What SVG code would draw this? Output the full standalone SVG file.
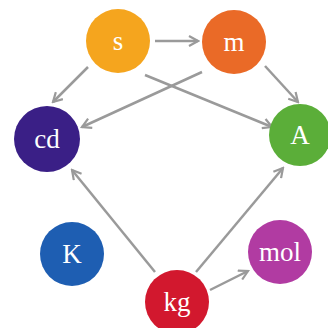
<svg xmlns="http://www.w3.org/2000/svg" width="328" height="328" viewBox="0 0 328 328">
<defs>
<style>
.n text{font-family:"Liberation Serif","DejaVu Serif",serif;font-size:27px;fill:#fff;text-anchor:middle;dominant-baseline:central}
.e line{stroke:#9a9a9a;stroke-width:2.5;fill:none;marker-end:url(#ah)}
</style>
<marker id="ah" viewBox="0 0 12 12" refX="10" refY="6" markerWidth="12" markerHeight="12" markerUnits="userSpaceOnUse" orient="auto">
<path d="M1,1 L10,6 L1,11" fill="none" stroke="#9a9a9a" stroke-width="2.2"/>
</marker>
</defs>
<rect width="328" height="328" fill="#fff"/>
<g class="e">
<line x1="155" y1="41" x2="198" y2="41"/>
<line x1="88" y1="67" x2="53" y2="102"/>
<line x1="202" y1="72" x2="82" y2="127"/>
<line x1="145" y1="75" x2="272" y2="127"/>
<line x1="265" y1="66" x2="298" y2="102"/>
<line x1="155" y1="272" x2="72" y2="170"/>
<line x1="196" y1="272" x2="283" y2="168"/>
<line x1="210" y1="290" x2="248" y2="271"/>
</g>
<g id="s" class="n"><circle cx="118" cy="41" r="32" fill="#F5A51E"/><text x="118" y="41">s</text></g>
<g id="m" class="n"><circle cx="234" cy="42" r="32" fill="#EA6A27"/><text x="234" y="42">m</text></g>
<g id="cd" class="n"><circle cx="47" cy="139" r="33" fill="#3A1F86"/><text x="47" y="139">cd</text></g>
<g id="A" class="n"><circle cx="300" cy="135" r="31" fill="#5BAE39"/><text x="300" y="135">A</text></g>
<g id="K" class="n"><circle cx="72" cy="254" r="32" fill="#1E5EB2"/><text x="72" y="254">K</text></g>
<g id="mol" class="n"><circle cx="280" cy="252" r="32" fill="#B13BA2"/><text x="280" y="252">mol</text></g>
<g id="kg" class="n"><circle cx="177" cy="302" r="32" fill="#D2182E"/><text x="177" y="302">kg</text></g>
</svg>
